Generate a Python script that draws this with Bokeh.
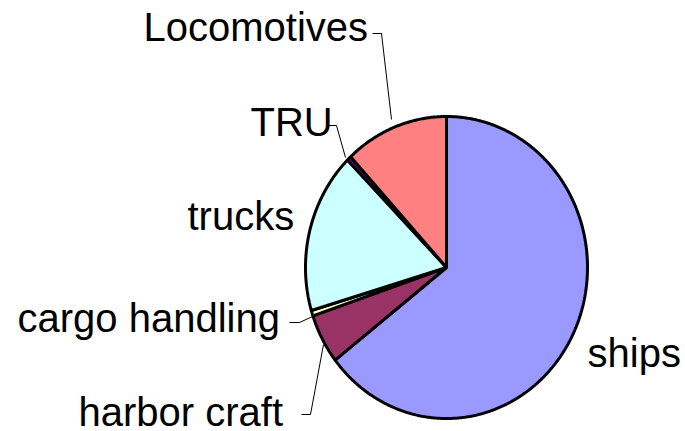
import numpy as np
from bokeh.plotting import figure
from bokeh.models import Range1d, ColumnDataSource
from bokeh.core.properties import value
from bokeh.embed import file_html
from bokeh.resources import INLINE

# ---- data (clockwise from 12 o'clock) ----
categories = ["ships", "harbor craft", "cargo handling", "trucks", "TRU", "Locomotives"]
shares = [64.5, 5.3, 0.6, 17.2, 0.5, 11.9]
colors = ["#9999FF", "#993366", "#FFFFCC", "#CCFFFF", "#660066", "#FF8080"]

# ---- layout (page pixel coordinates) ----
CX, CY, RX, RY = 446, 267, 141, 151
label_x = [587, 78, 17, 187, 250, 143]
label_y = [352, 411, 317, 215, 121, 26]
leaders = {
    "harbor craft": ([301, 310, 323], [414, 414, 344]),
    "cargo handling": ([289, 299, 312], [322, 322, 316]),
    "TRU": ([328, 336, 345], [125, 125, 157]),
    "Locomotives": ([372, 381, 391], [33, 33, 119]),
}

W, H = 685, 431
p = figure(width=W, height=H, x_range=Range1d(0, W), y_range=Range1d(H, 0),
           output_backend="svg", toolbar_location=None, min_border=0)
p.axis.visible = False
p.grid.visible = False
p.outline_line_color = None
p.background_fill_color = "white"

vals = np.array(shares, dtype=float)
frac = vals / vals.sum()
ends = np.cumsum(frac) * 2 * np.pi
starts = np.concatenate([[0.0], ends[:-1]])
xs, ys = [], []
for a0, a1 in zip(starts, ends):
    n = max(3, int(np.degrees(a1 - a0) * 2))
    a = np.linspace(a0, a1, n)
    xs.append([CX] + list(CX + RX * np.sin(a)))
    ys.append([CY] + list(CY - RY * np.cos(a)))

src = ColumnDataSource(dict(xs=xs, ys=ys, color=colors, cat=categories))
p.patches("xs", "ys", source=src, fill_color="color", line_color="black", line_width=3)

lx = [leaders[c][0] for c in categories if c in leaders]
ly = [leaders[c][1] for c in categories if c in leaders]
p.multi_line(lx, ly, line_color="black", line_width=1)

p.text(x=label_x, y=label_y, text=categories, text_font=value("Liberation Sans"),
       text_font_size="40px", text_baseline="alphabetic", text_align="left", text_color="black")

open("out.html", "w").write(file_html(p, INLINE))
